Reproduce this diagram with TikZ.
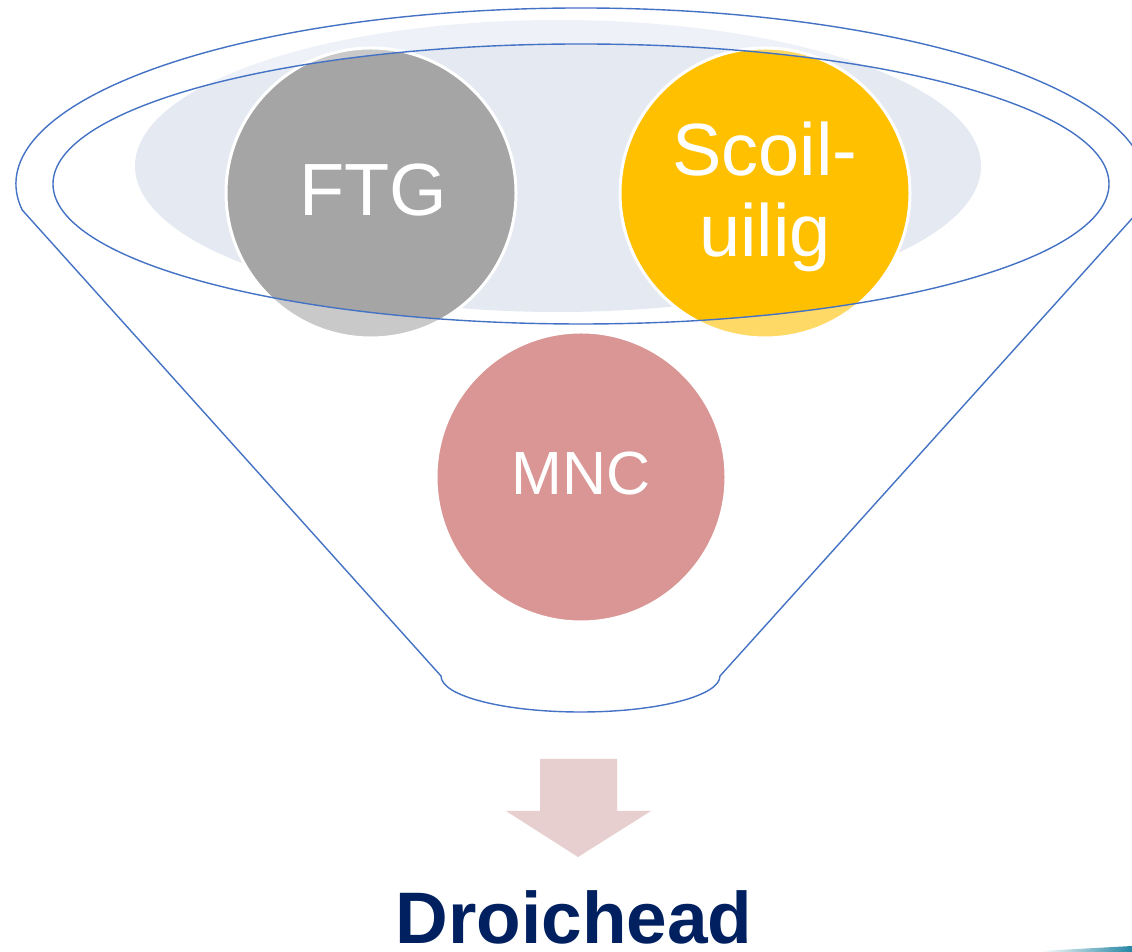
\documentclass[tikz,border=0pt]{standalone}
\usepackage{fontspec}
\setmainfont{Liberation Sans}
\usetikzlibrary{shapes.geometric}
\definecolor{funnelblue}{HTML}{4472C4}
\definecolor{paleblue}{HTML}{E4E9F2}
\definecolor{ftggray}{HTML}{A5A5A5}
\definecolor{scoilgold}{HTML}{FFC000}
\definecolor{mncrose}{HTML}{D99694}
\definecolor{arrowpink}{HTML}{E8CFCF}
\definecolor{navy}{HTML}{002060}
\definecolor{teal}{HTML}{2585A4}
\tikzset{
  bubble/.style={circle, draw=white, line width=3pt, minimum size=290pt, inner sep=0pt},
  bubbletext/.style={anchor=base, text=white, inner sep=0pt, font=\fontsize{74}{81}\selectfont},
  rim/.style={draw=funnelblue, line width=1.4pt},
}
\begin{document}
\begin{tikzpicture}[x=1pt, y=1pt]
\clip (0,0) rectangle (1132,952);
\fill[white] (0,0) rectangle (1132,952);
% pale blue ellipse
\fill[paleblue] (558,786) ellipse [x radius=423, y radius=146];
% top bubbles
\node[bubble, fill=ftggray] (ftg) at (371,759) {};
\node[bubble, fill=scoilgold] (scoil) at (765,759) {};
% ring overlay between outer rim and inner opening
\fill[white, fill opacity=0.4, even odd rule]
  (581,768) ellipse [x radius=565, y radius=176]
  (581,768) ellipse [x radius=528, y radius=140];
% texts of top bubbles
\node[bubbletext] (ftgtext) at (373,736) {FTG};
\node[bubbletext] (scoiltext1) at (765,776) {Scoil-};
\node[bubbletext] (scoiltext2) at (765,695) {uilig};
% inner opening
\draw[rim] (581,768) ellipse [x radius=528, y radius=140];
% funnel outline
\coordinate (fl) at (22.2,742);
\draw[rim] (fl) arc[start angle=188.5, end angle=-8.5, x radius=565, y radius=176]
  -- (720,276) arc[start angle=0, end angle=-180, x radius=139.5, y radius=36]
  -- cycle;
% bottom bubble
\node[bubble, fill=mncrose] (mnc) at (581,475) {};
\node[anchor=base, text=white, inner sep=0pt, font=\fontsize{61}{70}\selectfont] (mnctext) at (581,457) {MNC};
% arrow
\fill[arrowpink] (540,193) -- (617,193) -- (617,141) -- (651,141) -- (578,95)
  -- (506,141) -- (540,141) -- cycle;
% result
\node[anchor=base, text=navy, inner sep=0pt, font=\fontsize{73}{80}\selectfont\bfseries] (result) at (574,8) {Droichead};
% corner accent
\shade[left color=white, right color=teal] (1040,0) -- (1132,0) -- (1132,6) -- (1040,1) -- cycle;
\end{tikzpicture}
\end{document}
